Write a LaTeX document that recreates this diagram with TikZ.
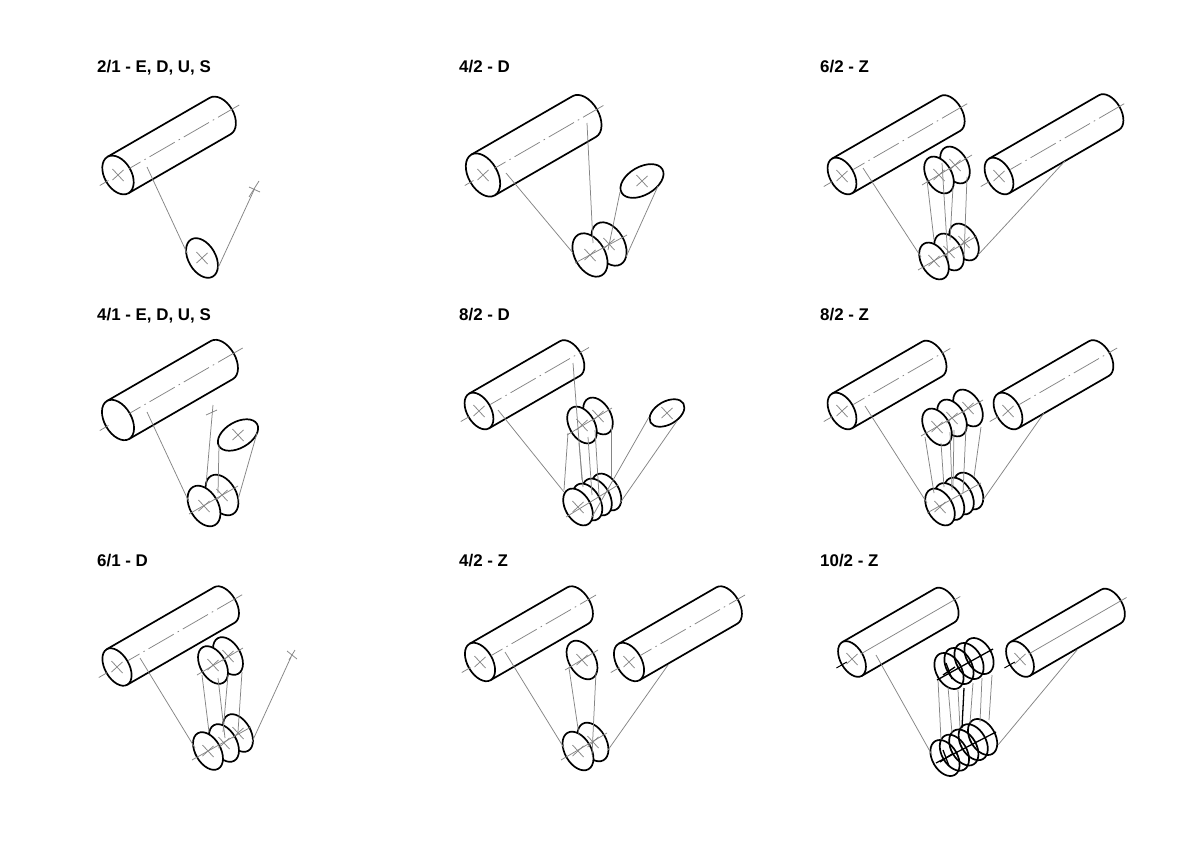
\documentclass[tikz,border=0pt]{standalone}
\usepackage{fontspec}
\setmainfont{Liberation Sans}
\tikzset{
  outline/.style={draw=black,line width=1.7pt,line join=round},
  thinline/.style={draw=black!48,line width=0.75pt},
  axisdash/.style={draw=black!48,line width=0.75pt,dash pattern=on 29pt off 4.5pt on 1.5pt off 4.5pt,dash phase=16pt},
  heavyline/.style={draw=black,line width=1.3pt},
  heading/.style={anchor=base west,font=\fontsize{16.9pt}{18pt}\selectfont\bfseries,inner sep=0pt},
}
% cylinder: front-centre x, y, length, major, minor
\newcommand{\cylbody}[5]{%
  \begin{scope}[shift={(#1,#2)},rotate=30]
    \draw[outline] (0,-#4) -- (#3,-#4) arc[start angle=90,end angle=-90,x radius=#5pt,y radius=#4pt] -- (0,#4);
    \draw[outline,fill=white] (0,0) ellipse[x radius=#5pt,y radius=#4pt];
  \end{scope}}
% dash-dot centre line of a cylinder: front-centre x, y, length, overhang
\newcommand{\cylaxis}[4]{%
  \begin{scope}[shift={(#1,#2)},rotate=30]
    \draw[thinline] (-21,0) -- (-11,0);
    \draw[axisdash] (13,0) -- (#3+#4,0);
  \end{scope}}
\newcommand{\cylaxissolid}[4]{%
  \begin{scope}[shift={(#1,#2)},rotate=30]
    \draw[draw=black,line width=1pt] (-18,0) -- (-6,0);
    \draw[thinline] (10,0) -- (#3+#4,0);
  \end{scope}}
\newcommand{\dsc}[4]{\draw[outline,fill=white,shift={(#1,#2)},rotate=-60] (0,0) ellipse[x radius=#3pt,y radius=#4pt+0.6pt];}
\newcommand{\dso}[4]{\draw[outline,shift={(#1,#2)},rotate=-60] (0,0) ellipse[x radius=#3pt,y radius=#4pt+0.6pt];}
\newcommand{\dsr}[4]{\draw[outline,fill=white,shift={(#1,#2)},rotate=30] (0,0) ellipse[x radius=#3pt,y radius=#4pt];}
\newcommand{\xm}[2]{\draw[thinline,shift={(#1,#2)}] (-5.5,-6) -- (5.5,6) (-5.5,5) -- (5.5,-5);}
\newcommand{\xmd}[2]{\draw[heavyline,shift={(#1,#2)}] (-3,-8) -- (3,8) (-6,4) -- (6,-4);}
\newcommand{\thn}[4]{\draw[thinline] (#1,#2) -- (#3,#4);}
\begin{document}
\begin{tikzpicture}[x=1pt,y=-1pt]
\fill[white] (0,0) rectangle (1200,848);
\useasboundingbox (0,0) rectangle (1200,848);
% headings
\node[heading] (t1) at (97,73) {2/1 - E, D, U, S};
\node[heading] (t2) at (459,73) {4/2 - D};
\node[heading] (t3) at (820,73) {6/2 - Z};
\node[heading] (t4) at (97,320) {4/1 - E, D, U, S};
\node[heading] (t5) at (459,320) {8/2 - D};
\node[heading] (t6) at (820,320) {8/2 - Z};
\node[heading] (t7) at (97,566) {6/1 - D};
\node[heading] (t8) at (459,566) {4/2 - Z};
\node[heading] (t9) at (820,566) {10/2 - Z};

% 2/1
\cylbody{118}{175}{118}{21}{13.5}
\dsc{202}{258}{21.5}{13}
\cylaxis{118}{175}{118}{22}
\xm{118}{175}
\thn{147}{167}{187}{253}
\thn{218}{268}{254}{190}
\xm{202}{258}
\thn{249}{197}{259}{181}
\thn{249}{187}{260}{192}

% 4/2 - D
\cylbody{483}{175}{117}{23.5}{14.5}
\dsc{609}{244}{23.5}{14.5}
\dsc{590}{255}{23.5}{14.5}
\dsr{642}{181}{23.5}{14}
\cylaxis{483}{175}{117}{22}
\thn{506}{173}{573}{253}
\thn{587}{123}{593}{243}
\thn{620}{192}{608}{250}
\thn{658}{186}{626}{257}
\thn{575}{263}{627}{235}
\xm{590}{255}\xm{609}{244}\xm{642}{181}
\xm{483}{175}

% 6/2 - Z
\cylbody{842}{176}{125}{20}{12}
\cylbody{999}{176}{127}{20}{12}
\dsc{955}{165}{20}{12}
\dsc{939}{175}{20}{12}
\dsc{964}{242}{20}{12}
\dsc{949}{252}{20}{12}
\dsc{934}{261}{20}{12}
\cylaxis{842}{176}{125}{22}
\cylaxis{999}{176}{127}{21}
\thn{863}{168}{921}{257}
\thn{978}{255}{1065}{161}
\thn{927}{180}{934}{240}
\thn{942}{163}{948}{260}
\thn{953}{187}{950}{240}
\thn{967}{177}{964}{257}
\thn{922}{185}{972}{155}
\thn{918}{270}{977}{236}
\xm{842}{176}\xm{999}{176}
\xm{939}{175}\xm{955}{165}\xm{934}{261}\xm{949}{252}\xm{964}{242}

% 4/1
\cylbody{118}{420}{120}{22}{13.5}
\dsc{222}{495}{22}{13.5}
\dsc{204}{506}{22}{13.5}
\dsr{238}{435}{22}{13}
\cylaxis{118}{420}{120}{24}
\thn{147}{412}{189}{502}
\thn{213}{405}{206}{485}
\thn{206}{415}{217}{410}
\thn{219}{445}{218}{493}
\thn{257}{433}{237}{503}
\thn{189}{514}{238}{486}
\xm{204}{506}\xm{222}{495}\xm{238}{435}

% 8/2 - D
\cylbody{479}{411}{105}{20}{12}
\dsc{598}{416}{20}{12}
\dsc{582}{425}{20}{12}
\dsr{667}{413}{19}{11.5}
\dsc{606.5}{492}{20}{12}
\dsc{597}{497}{20}{12}
\dsc{587.5}{502}{20}{12}
\dsc{578}{507}{20}{12}
\cylaxis{479}{411}{105}{22}
\thn{498}{410}{564}{492}
\thn{573}{363}{582}{480}
\thn{568}{433}{564}{490}
\thn{579}{443}{583}{487}
\thn{588}{437}{592}{495}
\thn{595}{430}{599}{495}
\thn{611}{427}{611}{477}
\thn{649}{417}{592}{517}
\thn{677}{421}{620}{503}
\thn{567}{435}{612}{408}
\thn{566}{517}{618}{485}
\xm{479}{411}\xm{582}{425}\xm{598}{416}\xm{667}{413}\xm{578}{507}

% 8/2 - Z
\cylbody{842}{411}{104}{20}{12}
\cylbody{1008}{411}{105}{20}{12}
\dsc{968}{408}{20}{12}
\dsc{952}{418}{20}{12}
\dsc{937}{427}{20}{12}
\dsc{968.5}{491}{20}{12}
\dsc{959}{496}{20}{12}
\dsc{949.5}{501.5}{20}{12}
\dsc{940}{507}{20}{12}
\cylaxis{842}{411}{104}{21}
\cylaxis{1008}{411}{105}{21}
\thn{865}{406}{927}{503}
\thn{983}{500}{1044}{413}
\thn{925}{437}{934}{493}
\thn{941}{443}{944}{487}
\thn{950}{432}{952}{490}
\thn{954}{430}{953}{487}
\thn{966}{427}{963}{493}
\thn{981}{427}{974}{477}
\thn{921}{436}{983}{400}
\thn{927}{513}{981}{483}
\xm{842}{411}\xm{1008}{411}\xm{937}{427}\xm{952}{418}\xm{968}{408}\xm{940}{507}

% 6/1 - D
\cylbody{117}{667}{124}{20.5}{12}
\dsc{228}{656}{20.5}{12}
\dsc{213}{665}{20.5}{12}
\dsc{238}{733}{20.5}{12}
\dsc{224}{743}{20.5}{12}
\dsc{208}{751}{20.5}{12}
\cylaxis{117}{667}{124}{22}
\thn{140}{658}{195}{748}
\thn{252}{742}{291}{657}
\thn{202}{675}{209}{732}
\thn{218}{678}{225}{738}
\thn{228}{675}{223}{732}
\thn{242}{672}{238}{732}
\thn{197}{675}{243}{648}
\thn{192}{760}{251}{727}
\thn{287}{651}{297}{659}
\thn{289}{660}{295}{650}
\xm{117}{667}\xm{213}{665}\xm{228}{656}\xm{208}{751}\xm{224}{743}\xm{238}{733}

% 4/2 - Z
\cylbody{480}{662}{113}{21}{12.5}
\cylbody{629}{662}{113}{21}{12.5}
\dsc{582}{660}{21}{12.5}
\dsc{593}{742}{21}{12.5}
\dsc{578}{751}{21}{12.5}
\cylaxis{480}{662}{113}{21}
\cylaxis{629}{662}{113}{21}
\thn{505}{652}{564}{748}
\thn{608}{750}{668}{665}
\thn{569}{668}{579}{735}
\thn{596}{672}{592}{755}
\thn{561}{760}{607}{733}
\thn{565}{670}{598}{650}
\xm{480}{662}\xm{629}{662}\xm{582}{660}\xm{578}{751}\xm{593}{742}

% 10/2 - Z
\cylbody{852}{659}{107}{19.5}{11.5}
\cylbody{1020}{659}{105}{19.5}{11.5}
\dso{979}{656}{19.5}{12}
\dso{969}{661}{19.5}{12}
\dso{959}{666}{19.5}{12}
\dso{949}{671}{19.5}{12}
\dso{982.6}{737}{19.5}{12}
\dso{973.2}{742.2}{19.5}{12}
\dso{963.8}{747.5}{19.5}{12}
\dso{954.4}{752.7}{19.5}{12}
\dso{945}{758}{19.5}{12}
\cylaxissolid{852}{659}{107}{18}
\cylaxissolid{1020}{659}{105}{18}
\thn{876}{655}{932}{755}
\thn{998}{745}{1077}{650}
\thn{938}{680}{941}{740}
\thn{948}{687}{952}{733}
\thn{958}{690}{960}{728}
\thn{973}{683}{970}{723}
\thn{982}{678}{980}{722}
\thn{992}{675}{989}{720}
\draw[heavyline] (964,688) -- (962,728);
\draw[heavyline] (937,680) -- (993,649);
\draw[heavyline] (936,763) -- (996,732);
\xm{852}{659}\xm{1020}{659}\xmd{949}{671}\xmd{946}{758}
\end{tikzpicture}
\end{document}
